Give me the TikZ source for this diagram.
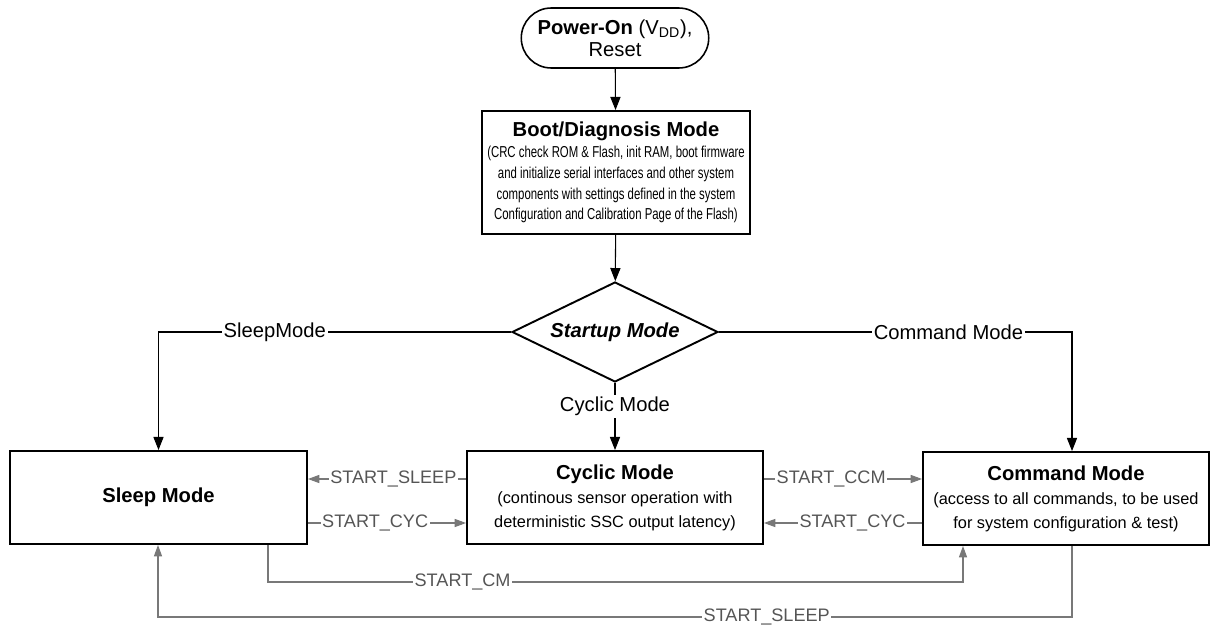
\documentclass[tikz,border=0pt]{standalone}
\usepackage{fontspec}
\setmainfont{Liberation Sans}
\newfontfamily\narrowfont[FakeStretch=0.72]{Liberation Sans}
\usetikzlibrary{arrows.meta,shapes.geometric,shapes.misc}
\definecolor{linegray}{RGB}{120,120,120}
\definecolor{textgray}{RGB}{85,85,85}

\begin{document}
\begin{tikzpicture}
            [x=0.02cm,y=-0.02cm,
             box/.style={draw,line width=1.1pt,minimum height=1.86cm,inner sep=2pt,align=center,font=\fontsize{9.3}{13.6}\selectfont},
             title/.style={font=\fontsize{11.5}{13}\selectfont\bfseries},
             flow/.style={-{Triangle[length=7.5pt,width=5.8pt]},line width=0.6pt},
             gflow/.style={-{Triangle[length=6.5pt,width=4.6pt]},line width=0.6pt,draw=linegray},
             blbl/.style={fill=white,inner sep=1pt,font=\fontsize{11.5}{13}\selectfont},
             lbl/.style={fill=white,inner sep=0.8pt,text=textgray,font=\fontsize{10.3}{12}\selectfont}]
            \useasboundingbox (0,0) rectangle (1211,625);

            \node[draw,rounded rectangle,line width=0.9pt,minimum width=3.82cm,minimum height=1.2cm,inner sep=1pt,align=center,font=\fontsize{11.5}{12.5}\selectfont] (power) at (615,38) {\textbf{Power-On} (V\textsubscript{DD}),\\Reset};
            \node[box,minimum width=5.36cm,minimum height=2.46cm,font=\narrowfont\fontsize{9}{11.9}\selectfont] (boot) at (616,172.5)
                {{\rmfamily\fontsize{11.5}{12.5}\selectfont\bfseries Boot/Diagnosis Mode}\\(CRC check ROM \& Flash, init RAM, boot firmware\\and initialize serial interfaces and other system\\components with settings defined in the system\\Configuration and Calibration Page of the Flash)};
            \node[diamond,draw,line width=1.1pt,shape aspect=2.06,minimum width=4.12cm,minimum height=2cm,inner sep=0pt,font=\fontsize{11.5}{13}\selectfont\bfseries\itshape] (startup) at (615,332) {Startup Mode};

            \node[box,minimum width=5.94cm,title] (sleep) at (158.5,497.5) {Sleep Mode};
            \node[box,minimum width=5.92cm] (cyclic) at (615,497.5)
                {{\fontsize{11.5}{13}\selectfont\bfseries Cyclic Mode}\\(continous sensor operation with\\deterministic SSC output latency)};
            \node[box,minimum width=5.72cm] (command) at (1066,498.5)
                {{\fontsize{11.5}{13}\selectfont\bfseries Command Mode}\\(access to all commands, to be used\\for system configuration \& test)};

            \coordinate (rowa) at (0,479);
            \coordinate (rowb) at (0,523);
            \coordinate (cmx) at (268,582);
            \coordinate (cmtx) at (963,582);
            \coordinate (slx) at (1072,617);
            \coordinate (sltx) at (158,617);

            \draw[flow] (power) -- (boot);
            \draw[flow] (boot) -- (startup);
            \draw[flow] (startup.west) -| node[blbl,pos=0.335] {SleepMode} (sleep.north);
            \draw[flow] (startup.east) -| node[blbl,pos=0.325] {Command Mode} (slx |- command.north);
            \draw[flow] (startup.south) -- node[blbl,pos=0.35] {Cyclic Mode} (cyclic.north);

            \draw[gflow] (cyclic.west |- rowa) -- node[lbl,pos=0.46] {START\_SLEEP} (sleep.east |- rowa);
            \draw[gflow] (sleep.east |- rowb) -- node[lbl,pos=0.425] {START\_CYC} (cyclic.west |- rowb);
            \draw[gflow] (cyclic.east |- rowa) -- node[lbl,pos=0.425] {START\_CCM} (command.west |- rowa);
            \draw[gflow] (command.west |- rowb) -- node[lbl,pos=0.44] {START\_CYC} (cyclic.east |- rowb);
            \draw[gflow] (sleep.south -| cmx) -- (cmx) -- node[lbl,pos=0.28] {START\_CM} (cmtx) -- (command.south -| cmtx);
            \draw[gflow] (command.south -| slx) -- (slx) -- node[lbl,pos=0.334] {START\_SLEEP} (sltx) -- (sleep.south -| sltx);
        \end{tikzpicture}
\end{document}
